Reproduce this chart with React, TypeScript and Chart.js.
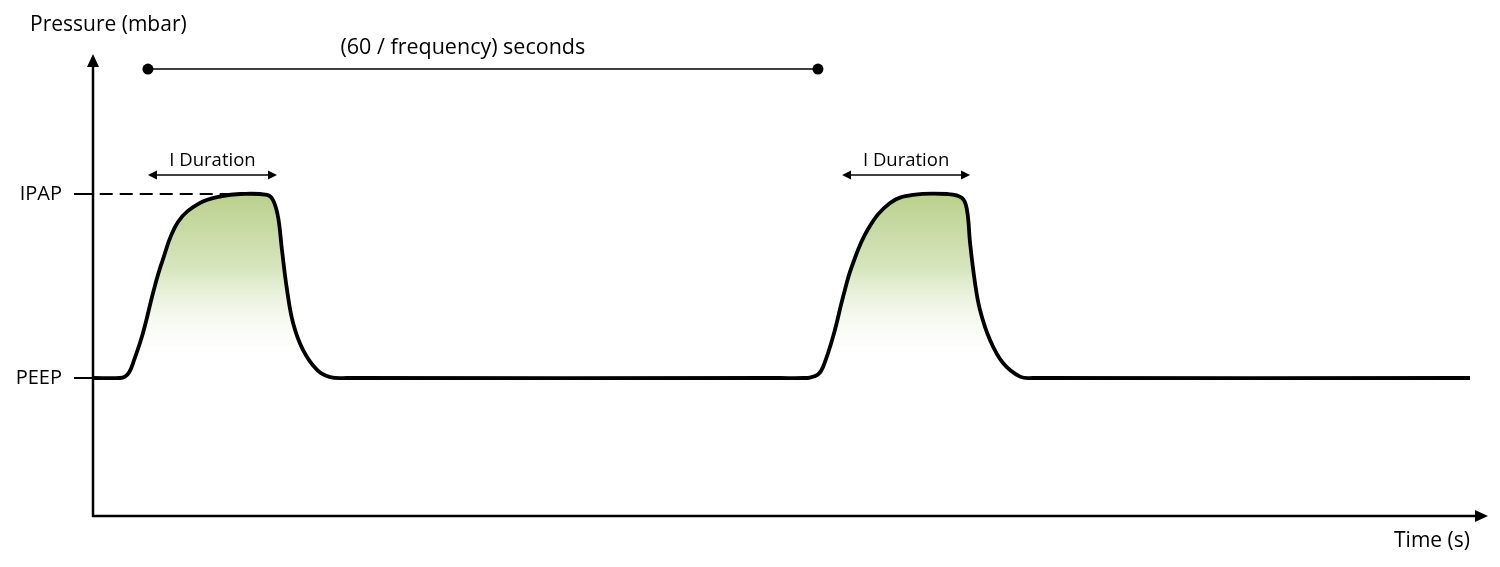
import { useEffect, useRef } from "react";
import { Chart, registerables } from "chart.js";

Chart.register(...registerables);

// Pressure waveform (time in s, pressure in mbar-like units)
const timeS = [
  0.0, 0.2, 0.239, 0.27, 0.299, 0.373, 0.448, 0.515, 0.634, 0.799, 0.963, 1.097,
  1.299, 1.343, 1.381, 1.41, 1.448, 1.493, 1.567, 1.672, 1.769, 1.896,
  5.127, 5.3, 5.35, 5.41, 5.448, 5.522, 5.597, 5.664, 5.784, 5.948, 6.119, 6.373, 6.485, 6.522,
  6.545, 6.582, 6.619, 6.694, 6.791, 6.918, 7.015, 10.276,
];
const pressure = [
  6.0, 6.0, 6.06, 6.25, 6.65, 7.96, 9.7, 11.04, 12.78, 13.61, 13.91, 14.0,
  13.96, 13.74, 13.0, 11.57, 9.83, 8.39, 7.22, 6.35, 6.04, 6.0,
  6.0, 6.0, 6.02, 6.15, 6.48, 7.78, 9.52, 10.87, 12.48, 13.61, 13.96, 14.0, 13.83, 13.3,
  11.87, 10.13, 8.96, 7.65, 6.65, 6.06, 6.0, 6.0,
];

const yTickValues = [6, 14];
const yTickLabels = ["PEEP", "IPAP"];
const ipapDashT = [0.05, 1.04];
const ipapLevel = 14;
const peepLevel = 6;

const periodMarks = [0.41, 5.41];
const periodLevel = 19.43;
const periodLabel = "(60 / frequency) seconds";
const periodLabelT = 2.76;

const iDurationStart = [0.41, 5.59];
const iDurationEnd = [1.373, 6.545];
const iDurationLevel = 14.83;
const iDurationLabel = "I Duration";

const xMax = 10.41;
const yMax = 20;

const FONT = "'Open Sans', 'Noto Sans', sans-serif";

export default function App() {
  const ref = useRef<HTMLCanvasElement | null>(null);

  useEffect(() => {
    if (!ref.current) return;

    const annotations = {
      id: "annotations",
      afterDraw(chart: any) {
        const { ctx, chartArea, scales } = chart;
        const xs = scales.x;
        const ys = scales.y;
        const left = chartArea.left;
        const bottom = chartArea.bottom;
        ctx.save();
        ctx.fillStyle = "#000";
        ctx.strokeStyle = "#000";

        // axes with arrows
        ctx.lineWidth = 2.5;
        ctx.beginPath();
        ctx.moveTo(left, bottom + 1);
        ctx.lineTo(left, 62);
        ctx.stroke();
        ctx.beginPath();
        ctx.moveTo(left, 54);
        ctx.lineTo(left - 6, 67);
        ctx.lineTo(left + 6, 67);
        ctx.closePath();
        ctx.fill();

        ctx.beginPath();
        ctx.moveTo(left - 1, bottom);
        ctx.lineTo(1480, bottom);
        ctx.stroke();
        ctx.beginPath();
        ctx.moveTo(1488, bottom);
        ctx.lineTo(1475, bottom - 6);
        ctx.lineTo(1475, bottom + 6);
        ctx.closePath();
        ctx.fill();

        // axis titles
        ctx.font = `21px ${FONT}`;
        ctx.textBaseline = "middle";
        ctx.textAlign = "left";
        ctx.fillText("Pressure (mbar)", 30, 25);
        ctx.textAlign = "right";
        ctx.fillText("Time (s)", 1470, 541);

        // period bar
        const py = ys.getPixelForValue(periodLevel);
        const px0 = xs.getPixelForValue(periodMarks[0]);
        const px1 = xs.getPixelForValue(periodMarks[1]);
        ctx.lineWidth = 1.5;
        ctx.beginPath();
        ctx.moveTo(px0, py);
        ctx.lineTo(px1, py);
        ctx.stroke();
        periodMarks.forEach((t) => {
          ctx.beginPath();
          ctx.arc(xs.getPixelForValue(t), py, 5.5, 0, Math.PI * 2);
          ctx.fill();
        });
        ctx.font = `21.5px ${FONT}`;
        ctx.textAlign = "center";
        ctx.fillText(periodLabel, xs.getPixelForValue(periodLabelT), 48);

        // I duration arrows
        const iy = ys.getPixelForValue(iDurationLevel);
        ctx.font = `18.5px ${FONT}`;
        iDurationStart.forEach((t0, i) => {
          const a = xs.getPixelForValue(t0);
          const b = xs.getPixelForValue(iDurationEnd[i]);
          ctx.lineWidth = 1.5;
          ctx.beginPath();
          ctx.moveTo(a + 3, iy);
          ctx.lineTo(b - 3, iy);
          ctx.stroke();
          ctx.beginPath();
          ctx.moveTo(a, iy);
          ctx.lineTo(a + 9, iy - 4.5);
          ctx.lineTo(a + 9, iy + 4.5);
          ctx.closePath();
          ctx.fill();
          ctx.beginPath();
          ctx.moveTo(b, iy);
          ctx.lineTo(b - 9, iy - 4.5);
          ctx.lineTo(b - 9, iy + 4.5);
          ctx.closePath();
          ctx.fill();
          ctx.fillText(iDurationLabel, (a + b) / 2, iy - 14);
        });

        ctx.restore();
      },
    };

    const chart = new Chart(ref.current, {
      type: "line",
      data: {
        datasets: [
          {
            data: ipapDashT.map((t) => ({ x: t, y: ipapLevel })),
            borderColor: "#000",
            borderWidth: 2,
            borderDash: [13, 7],
            pointRadius: 0,
            fill: false,
          },
          {
            data: timeS.map((t, i) => ({ x: t, y: pressure[i] })),
            borderColor: "#000",
            borderWidth: 3.8,
            borderJoinStyle: "round",
            pointRadius: 0,
            tension: 0.4,
            fill: { value: peepLevel },
            backgroundColor: (c: any) => {
              const ch = c.chart;
              if (!ch.chartArea) return "rgba(0,0,0,0)";
              const y0 = ch.scales.y.getPixelForValue(ipapLevel);
              const y1 = ch.scales.y.getPixelForValue(6.6);
              const g = ch.ctx.createLinearGradient(0, y0, 0, y1);
              g.addColorStop(0, "rgb(186,208,140)");
              g.addColorStop(0.45, "rgb(216,230,192)");
              g.addColorStop(1, "rgba(255,255,255,0)");
              return g;
            },
          },
        ],
      },
      options: {
        animation: false,
        responsive: true,
        maintainAspectRatio: false,
        layout: { padding: { top: 56, right: 12, left: 0, bottom: 0 } },
        plugins: { legend: { display: false }, tooltip: { enabled: false } },
        scales: {
          x: {
            type: "linear",
            min: 0,
            max: xMax,
            ticks: { display: false },
            grid: { display: false },
            border: { display: false },
            afterFit: (s: any) => {
              s.height = 51;
            },
          },
          y: {
            type: "linear",
            min: 0,
            max: yMax,
            afterBuildTicks: (s: any) => {
              s.ticks = yTickValues.map((v) => ({ value: v }));
            },
            ticks: {
              color: "#000",
              padding: 12,
              font: { family: FONT, size: 20 },
              callback: (v: any) => {
                const i = yTickValues.indexOf(Number(v));
                return i >= 0 ? yTickLabels[i] : "";
              },
            },
            grid: {
              drawOnChartArea: false,
              drawTicks: true,
              tickLength: 19,
              color: "#000",
              lineWidth: 2,
            },
            border: { display: false },
            afterFit: (s: any) => {
              s.width = 93;
            },
          },
        },
      },
      plugins: [annotations],
    });

    return () => chart.destroy();
  }, []);

  return (
    <div style={{ position: "fixed", left: 0, top: 0, width: 1500, height: 567, background: "#fff" }}>
      <canvas ref={ref} />
    </div>
  );
}
